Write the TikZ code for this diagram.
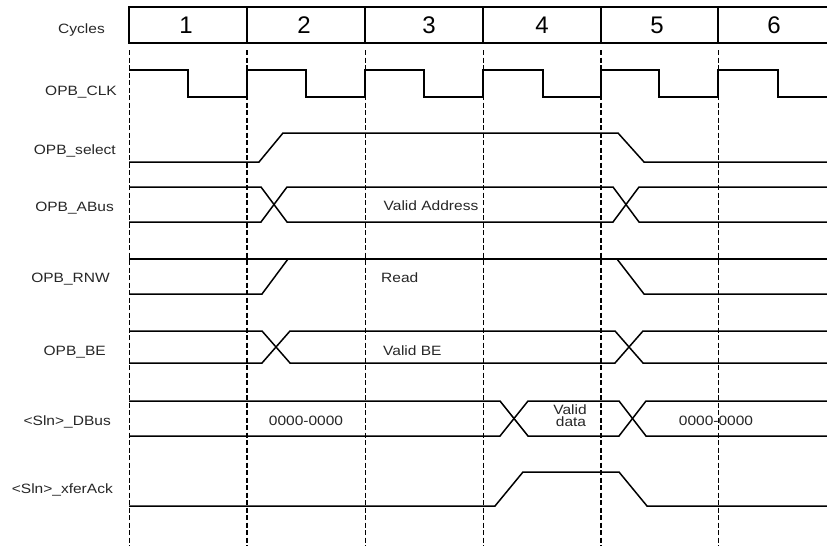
\documentclass[tikz,border=0pt]{standalone}
\usepackage{fontspec}
\setmainfont{Liberation Sans}
\newfontfamily\lblfont{Liberation Sans}[FakeStretch=1.15]
\begin{document}
\begin{tikzpicture}[x=1pt,y=-1pt,
  sig/.style={line width=1.5pt, line join=miter},
  hdr/.style={line width=1.4pt},
  gridthin/.style={line width=1pt, dash pattern=on 5pt off 2.5pt},
  gridthick/.style={line width=1.6pt, dash pattern=on 5pt off 2.5pt},
  lbl/.style={anchor=base east, inner sep=0pt, text=black!85, font=\lblfont\fontsize{13.5}{15}\selectfont},
  txt/.style={anchor=base, inner sep=0pt, text=black!85, font=\lblfont\fontsize{13.5}{15}\selectfont},
  num/.style={anchor=base, inner sep=0pt, font=\fontsize{24}{26}\selectfont}]
\useasboundingbox (0,0) rectangle (827,546);
% header
\draw[hdr] (827,7) -- (129,7) -- (129,43) -- (827,43);
\foreach \x in {247,365,483,601,718} \draw[hdr] (\x,7) -- (\x,43);
\node[num] (c1) at (186,33) {1};
\node[num] (c2) at (304,33) {2};
\node[num] (c3) at (429,33) {3};
\node[num] (c4) at (542,33) {4};
\node[num] (c5) at (657,33) {5};
\node[num] (c6) at (774,33) {6};
% grid lines
\foreach \x in {129,365,483,718} \draw[gridthin] (\x,50) -- (\x,546);
\foreach \x in {247,601} \draw[gridthick] (\x,50) -- (\x,546);
% labels
\node[lbl] (lcyc) at (105,33) {Cycles};
\node[lbl] (lclk) at (117,95) {OPB\_CLK};
\node[lbl] (lsel) at (116,154) {OPB\_select};
\node[lbl] (labus) at (114,211) {OPB\_ABus};
\node[lbl] (lrnw) at (110,282) {OPB\_RNW};
\node[lbl] (lbe) at (106,355) {OPB\_BE};
\node[lbl] (ldbus) at (111,425) {<Sln>\_DBus};
\node[lbl] (lack) at (113,493) {<Sln>\_xferAck};
% clock
\draw[sig] (129,70) -- (188,70) -- (188,97) -- (247,97) -- (247,70) -- (306,70) -- (306,97)
  -- (365,97) -- (365,70) -- (424,70) -- (424,97) -- (483,97) -- (483,70) -- (543,70)
  -- (543,97) -- (601,97) -- (601,70) -- (659,70) -- (659,97) -- (718,97) -- (718,70)
  -- (778,70) -- (778,97) -- (827,97);
% select
\draw[sig] (129,162) -- (259,162) -- (283,133) -- (618,133) -- (644,162) -- (827,162);
% ABus
\draw[sig] (129,187) -- (261,187) -- (287,222) -- (613,222) -- (639,187) -- (827,187);
\draw[sig] (129,222) -- (261,222) -- (287,187) -- (613,187) -- (639,222) -- (827,222);
\node[txt] (tva) at (431,210) {Valid Address};
% RNW
\draw[sig] (129,259) -- (827,259);
\draw[sig] (129,294) -- (262,294) -- (288,259);
\draw[sig] (617,259) -- (644,294) -- (827,294);
\node[txt, anchor=base west] (trd) at (381,282) {Read};
% BE
\draw[sig] (129,331) -- (262,331) -- (290,363) -- (615,363) -- (643,331) -- (827,331);
\draw[sig] (129,363) -- (262,363) -- (290,331) -- (615,331) -- (643,363) -- (827,363);
\node[txt, anchor=base west] (tbe) at (383,355) {Valid BE};
% DBus
\draw[sig] (129,401) -- (500,401) -- (528,436) -- (619,436) -- (646,401) -- (827,401);
\draw[sig] (129,436) -- (500,436) -- (528,401) -- (619,401) -- (646,436) -- (827,436);
\node[txt] (tz1) at (306,425) {0000-0000};
\node[txt] (tvd1) at (570,414) {Valid};
\node[txt] (tvd2) at (571,426) {data};
\node[txt] (tz2) at (716,425) {0000-0000};
% xferAck
\draw[sig] (129,506) -- (495,506) -- (523,472) -- (619,472) -- (647,506) -- (827,506);
\end{tikzpicture}
\end{document}
